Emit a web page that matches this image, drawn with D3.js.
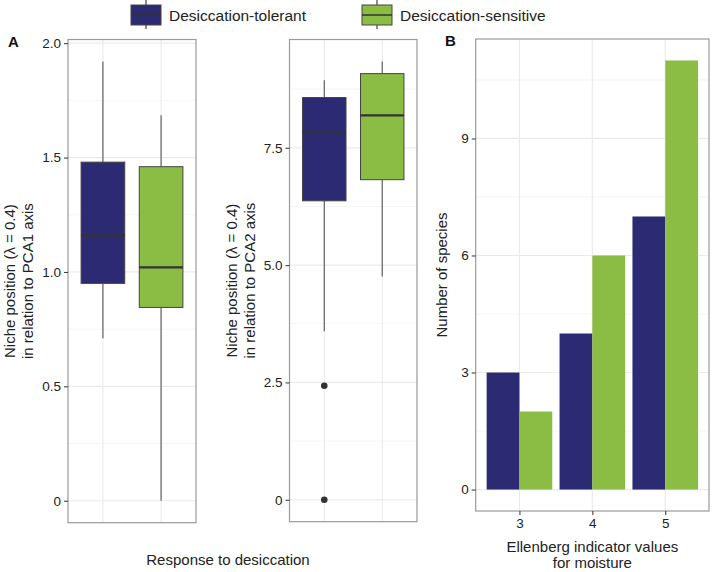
<!DOCTYPE html>
<html>
<head>
<meta charset="utf-8">
<script src="https://cdn.jsdelivr.net/npm/d3@7"></script>
<style>
  html, body { margin: 0; padding: 0; background: #fff; }
  svg { display: block; font-family: "Liberation Sans", Arial, Helvetica, sans-serif; }
</style>
</head>
<body>
<svg id="chart" width="712" height="572"></svg>
<script>
// ---------------- DATA ----------------
const groups = ["Desiccation-tolerant", "Desiccation-sensitive"];
const groupColors = ["#2c2a72", "#8bbd45"];

// box stats: [lower whisker, Q1, median, Q3, upper whisker]
const pca1Box = [
  [0.71, 0.95, 1.16, 1.48, 1.92],
  [0.00, 0.845, 1.02, 1.46, 1.685]
];
const pca1Outliers = [[], []];
const pca1Ticks = [0, 0.5, 1.0, 1.5, 2.0];
const pca1TickLabels = ["0", "0.5", "1.0", "1.5", "2.0"];

const pca2Box = [
  [3.59, 6.37, 7.83, 8.57, 8.94],
  [4.76, 6.82, 8.19, 9.08, 9.34]
];
const pca2Outliers = [[2.43, 0], []];
const pca2Ticks = [0, 2.5, 5.0, 7.5];
const pca2TickLabels = ["0", "2.5", "5.0", "7.5"];

const moistureValues = ["3", "4", "5"];
const tolerantCounts = [3, 4, 7];
const sensitiveCounts = [2, 6, 11];
const countTicks = [0, 3, 6, 9];

// ---------------- DRAW ----------------
const svg = d3.select("#chart");
const gridMajor = "#ebebeb", gridMinor = "#f5f5f5", borderCol = "#9a9a9a", textCol = "#222";
const tickFont = 13.5, titleFont = 15;

function boxPanel(opts) {
  const { left, right, top, bottom, boxes, outliers, ticks, tickLabels, titleLines, titleX } = opts;
  let lo = d3.min(boxes, b => b[0]), hi = d3.max(boxes, b => b[4]);
  outliers.forEach(o => o.forEach(v => { lo = Math.min(lo, v); hi = Math.max(hi, v); }));
  const pad = (hi - lo) * 0.05;
  const y = d3.scaleLinear().domain([lo - pad, hi + pad]).range([bottom, top]);
  const x = d3.scaleLinear().domain([0.4, groups.length + 0.6]).range([left, right]);
  const g = svg.append("g");
  g.append("rect").attr("x", left).attr("y", top).attr("width", right - left).attr("height", bottom - top).attr("fill", "#fff");
  const minors = d3.range(ticks.length - 1).map(i => (ticks[i] + ticks[i + 1]) / 2);
  const step = ticks[1] - ticks[0];
  const extra = ticks[ticks.length - 1] + step / 2;
  if (extra < y.domain()[1]) minors.push(extra);
  g.selectAll(".minor").data(minors).join("line")
    .attr("x1", left).attr("x2", right).attr("y1", d => y(d)).attr("y2", d => y(d))
    .attr("stroke", gridMinor).attr("stroke-width", 1);
  g.selectAll(".major").data(ticks).join("line")
    .attr("x1", left).attr("x2", right).attr("y1", d => y(d)).attr("y2", d => y(d))
    .attr("stroke", gridMajor).attr("stroke-width", 1.2);
  g.selectAll(".vgrid").data(groups).join("line")
    .attr("x1", (d, i) => x(i + 1)).attr("x2", (d, i) => x(i + 1)).attr("y1", top).attr("y2", bottom)
    .attr("stroke", gridMajor).attr("stroke-width", 1.2);
  const bw = 0.75;
  boxes.forEach((b, i) => {
    const cx = x(i + 1), x0 = x(i + 1 - bw / 2), x1 = x(i + 1 + bw / 2);
    g.append("line").attr("x1", cx).attr("x2", cx).attr("y1", y(b[4])).attr("y2", y(b[3])).attr("stroke", "#555").attr("stroke-width", 1.1);
    g.append("line").attr("x1", cx).attr("x2", cx).attr("y1", y(b[1])).attr("y2", y(b[0])).attr("stroke", "#555").attr("stroke-width", 1.1);
    g.append("rect").attr("x", x0).attr("y", y(b[3])).attr("width", x1 - x0).attr("height", y(b[1]) - y(b[3]))
      .attr("fill", groupColors[i]).attr("stroke", "#444").attr("stroke-width", 1);
    g.append("line").attr("x1", x0).attr("x2", x1).attr("y1", y(b[2])).attr("y2", y(b[2])).attr("stroke", "#333").attr("stroke-width", 2.2);
    g.selectAll(null).data(outliers[i]).join("circle")
      .attr("cx", cx).attr("cy", d => y(d)).attr("r", 3.3).attr("fill", "#333");
  });
  g.append("rect").attr("x", left).attr("y", top).attr("width", right - left).attr("height", bottom - top)
    .attr("fill", "none").attr("stroke", borderCol).attr("stroke-width", 1.2);
  const axis = d3.axisLeft(y).tickValues(ticks).tickFormat((d, i) => tickLabels[i]).tickSize(4).tickPadding(3);
  const ag = g.append("g").attr("transform", `translate(${left},0)`).call(axis);
  ag.select(".domain").remove();
  ag.selectAll("line").attr("stroke", "#333");
  ag.selectAll("text").attr("font-size", tickFont).attr("fill", textCol).attr("font-family", "Liberation Sans, Arial, sans-serif");
  const cy = (top + bottom) / 2;
  titleLines.forEach((t, k) => {
    g.append("text").attr("transform", `translate(${titleX[k]},${cy}) rotate(-90)`)
      .attr("text-anchor", "middle").attr("font-size", titleFont).attr("fill", textCol).text(t);
  });
}

boxPanel({
  left: 68, right: 196, top: 39.5, bottom: 522.7,
  boxes: pca1Box, outliers: pca1Outliers, ticks: pca1Ticks, tickLabels: pca1TickLabels,
  titleLines: ["Niche position (\u03bb = 0.4)", "in relation to PCA1 axis"], titleX: [14.5, 32.5]
});
boxPanel({
  left: 289.5, right: 417, top: 39.5, bottom: 521.7,
  boxes: pca2Box, outliers: pca2Outliers, ticks: pca2Ticks, tickLabels: pca2TickLabels,
  titleLines: ["Niche position (\u03bb = 0.4)", "in relation to PCA2 axis"], titleX: [237, 255]
});

svg.append("text").attr("x", 228).attr("y", 565).attr("text-anchor", "middle")
  .attr("font-size", titleFont).attr("fill", textCol).text("Response to desiccation");

// Panel B: bar chart
(function () {
  const left = 475.7, right = 709, top = 39, bottom = 511;
  const maxV = d3.max(tolerantCounts.concat(sensitiveCounts));
  const y = d3.scaleLinear().domain([-0.05 * maxV, maxV * 1.05]).range([bottom, top]);
  const x = d3.scaleLinear().domain([0.4, moistureValues.length + 0.6]).range([left, right]);
  const g = svg.append("g");
  const minors = [1.5, 4.5, 7.5, 10.5];
  g.selectAll(".minor").data(minors).join("line")
    .attr("x1", left).attr("x2", right).attr("y1", d => y(d)).attr("y2", d => y(d))
    .attr("stroke", gridMinor).attr("stroke-width", 1);
  g.selectAll(".major").data(countTicks).join("line")
    .attr("x1", left).attr("x2", right).attr("y1", d => y(d)).attr("y2", d => y(d))
    .attr("stroke", gridMajor).attr("stroke-width", 1.2);
  g.selectAll(".vgrid").data(moistureValues).join("line")
    .attr("x1", (d, i) => x(i + 1)).attr("x2", (d, i) => x(i + 1)).attr("y1", top).attr("y2", bottom)
    .attr("stroke", gridMajor).attr("stroke-width", 1.2);
  const w = 0.45;
  const series = [tolerantCounts, sensitiveCounts];
  series.forEach((vals, s) => {
    g.selectAll(null).data(vals).join("rect")
      .attr("x", (d, i) => x(i + 1 - w + s * w))
      .attr("width", x(w) - x(0))
      .attr("y", d => y(d))
      .attr("height", d => y(0) - y(d))
      .attr("fill", groupColors[s]);
  });
  g.append("rect").attr("x", left).attr("y", top).attr("width", right - left).attr("height", bottom - top)
    .attr("fill", "none").attr("stroke", borderCol).attr("stroke-width", 1.2);
  const ay = g.append("g").attr("transform", `translate(${left},0)`)
    .call(d3.axisLeft(y).tickValues(countTicks).tickFormat(d3.format("d")).tickSize(4).tickPadding(3));
  ay.select(".domain").remove();
  ay.selectAll("line").attr("stroke", "#333");
  ay.selectAll("text").attr("font-size", tickFont).attr("fill", textCol).attr("font-family", "Liberation Sans, Arial, sans-serif");
  const ax = g.append("g").attr("transform", `translate(0,${bottom})`)
    .call(d3.axisBottom(x).tickValues(moistureValues.map((d, i) => i + 1)).tickFormat((d, i) => moistureValues[i]).tickSize(4).tickPadding(3));
  ax.select(".domain").remove();
  ax.selectAll("line").attr("stroke", "#333");
  ax.selectAll("text").attr("font-size", tickFont).attr("fill", textCol).attr("font-family", "Liberation Sans, Arial, sans-serif");
  g.append("text").attr("transform", `translate(447,${(top + bottom) / 2}) rotate(-90)`)
    .attr("text-anchor", "middle").attr("font-size", titleFont).attr("fill", textCol).text("Number of species");
  const cx = (left + right) / 2;
  g.append("text").attr("x", cx).attr("y", 552).attr("text-anchor", "middle").attr("font-size", titleFont).attr("fill", textCol).text("Ellenberg indicator values");
  g.append("text").attr("x", cx).attr("y", 568).attr("text-anchor", "middle").attr("font-size", titleFont).attr("fill", textCol).text("for moisture");
})();

// Panel letters
svg.append("text").attr("x", 8).attr("y", 47).attr("font-size", 15).attr("font-weight", "bold").attr("fill", "#111").text("A");
svg.append("text").attr("x", 445).attr("y", 46).attr("font-size", 15).attr("font-weight", "bold").attr("fill", "#111").text("B");

// Legend
const legendX = [131, 362];
groups.forEach((gname, i) => {
  const lx = legendX[i];
  const lg = svg.append("g");
  lg.append("line").attr("x1", lx + 15).attr("x2", lx + 15).attr("y1", 0).attr("y2", 29).attr("stroke", "#444").attr("stroke-width", 1.2);
  lg.append("rect").attr("x", lx).attr("y", 5).attr("width", 30).attr("height", 20).attr("fill", groupColors[i]).attr("stroke", "#444").attr("stroke-width", 1);
  lg.append("line").attr("x1", lx).attr("x2", lx + 30).attr("y1", 15).attr("y2", 15).attr("stroke", "#333").attr("stroke-width", 1.5);
  lg.append("text").attr("x", lx + 38).attr("y", 20.5).attr("font-size", 15.5).attr("fill", textCol).text(gname);
});
</script>
</body>
</html>
